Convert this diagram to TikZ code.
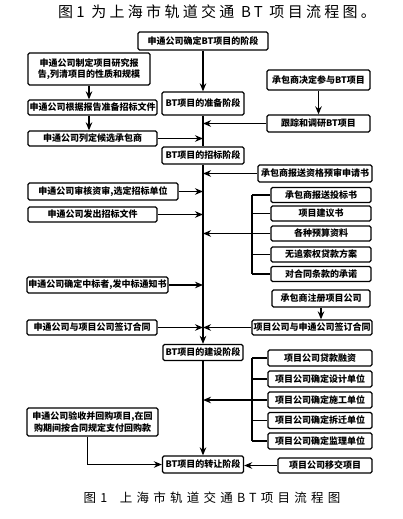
\documentclass[tikz,border=0pt]{standalone}
\usepackage{fontspec}
\newfontfamily\cjk{Noto Sans CJK SC}
\newfontfamily\cjkwide[LetterSpace=22]{Noto Sans CJK SC}
\newfontfamily\cjkcap[LetterSpace=34]{Noto Sans CJK SC}
\usetikzlibrary{arrows.meta, calc}
\tikzset{
  every picture/.style={line width=1.3pt},
  box/.style={draw, rounded corners=1.5pt, align=center, inner sep=0pt, font=\cjk\bfseries\fontsize{9}{11.5}\selectfont},
  arrow/.style={-{Stealth[length=8pt, width=6.5pt]}, line width=1.5pt},
  title/.style={font=\cjkwide\fontsize{15}{17}\selectfont},
  note/.style={font=\cjkcap\fontsize{12.5}{14}\selectfont},
}

\begin{document}
\begin{tikzpicture}[x=1pt, y=-1pt]
  \useasboundingbox (0,0) rectangle (403,519);
  \node[title] (head) at (217,12) {图1 为上海市轨道交通 BT 项目流程图。};
  % stages on the trunk
  \foreach \i/\y/\w/\h/\txt in {
    0/41/130/18/{申通公司确定BT项目的阶段},
    1/103.5/82/23/{BT项目的准备阶段},
    2/155.5/82/17/{BT项目的招标阶段},
    3/352.5/80/16/{BT项目的建设阶段},
    4/464.5/81/17/{BT项目的转让阶段}} {
    \node[box, minimum width=\w, minimum height=\h] (s\i) at (203,\y) {\txt};
  }
  % left column
  \foreach \i/\x/\y/\w/\h/\txt in {
    1/89/69/122/32/{申通公司制定项目研究报\\告,列清项目的性质和规模},
    2/92.5/107.5/129/15/{申通公司根据报告准备招标文件},
    3/92.5/138.5/129/15/{申通公司列定候选承包商},
    4/103/191.5/150/17/{申通公司审核资审,选定招标单位},
    5/92.5/214.5/129/15/{申通公司发出招标文件},
    6/97.5/285/141/16/{申通公司确定中标者,发中标通知书},
    7/92/327.5/130/15/{申通公司与项目公司签订合同},
    8/92.5/422/131/28/{申通公司验收并回购项目,在回\\购期间按合同规定支付回购款}} {
    \node[box, minimum width=\w, minimum height=\h] (l\i) at (\x,\y) {\txt};
  }
  % right column
  \foreach \i/\x/\y/\w/\h/\txt in {
    1/318.5/80/103/20/{承包商决定参与BT项目},
    2/318.5/123.5/103/17/{跟踪和调研BT项目},
    3/315/173.5/114/17/{承包商报送资格预审申请书},
    4/321/298.5/98/17/{承包商注册项目公司},
    5/312/327.5/120/15/{项目公司与申通公司签订合同},
    6/325/465.5/94/15/{项目公司移交项目}} {
    \node[box, minimum width=\w, minimum height=\h] (r\i) at (\x,\y) {\txt};
  }
  \foreach \i/\y/\txt in {1/195/{承包商报送投标书}, 2/213.5/{项目建议书}, 3/233.5/{各种预算资料},
    4/254.5/{无追索权贷款方案}, 5/274/{对合同条款的承诺}}
    \node[box, minimum width=100, minimum height=15] (bid\i) at (321,\y) {\txt};
  \foreach \i/\y/\txt in {1/358/{项目公司贷款融资}, 2/379/{项目公司确定设计单位}, 3/400/{项目公司确定施工单位},
    4/420.5/{项目公司确定拆迁单位}, 5/441/{项目公司确定监理单位}}
    \node[box, minimum width=104, minimum height=16] (con\i) at (320,\y) {\txt};
  \node[note] (foot) at (212,498) {图1\quad 上海市轨道交通BT项目流程图};
  % brackets
  \coordinate (k) at (252,0);
  \foreach \g in {bid, con} {
    \foreach \i in {1,...,5} \draw (\g\i.west) -- (\g\i.west -| k);
    \draw (\g1.west -| k) -- (\g5.west -| k);
  }
  % connectors
  \draw[arrow] (s0) -- (s1);
  \draw[line width=1.5pt] (s1) -- (s2);
  \draw[arrow] (s2) -- (s3);
  \draw[arrow] (s3) -- (s4);
  \draw[arrow] (l1.south) -- (l1.south |- l2.north);
  \draw[arrow] (l2.south -| l1.south) -- (l3.north -| l1.south);
  \draw[arrow] (r1) -- (r2);
  \draw[arrow] (r4.south) -- (r4.south |- r5.north);
  \foreach \n in {l3, l4, l5, l6, l7} \draw[arrow] (\n.east) -- (\n.east -| s2.south);
  \foreach \n in {r2, r3, bid3, r5, con3} \draw[arrow] (\n.west) -- (\n.west -| s2.south);
  \draw[arrow] ([xshift=-5pt]l8.south) |- (s4.west);
  \draw[arrow] (r6.west) -- (r6.west -| s4.east);
\end{tikzpicture}
\end{document}
